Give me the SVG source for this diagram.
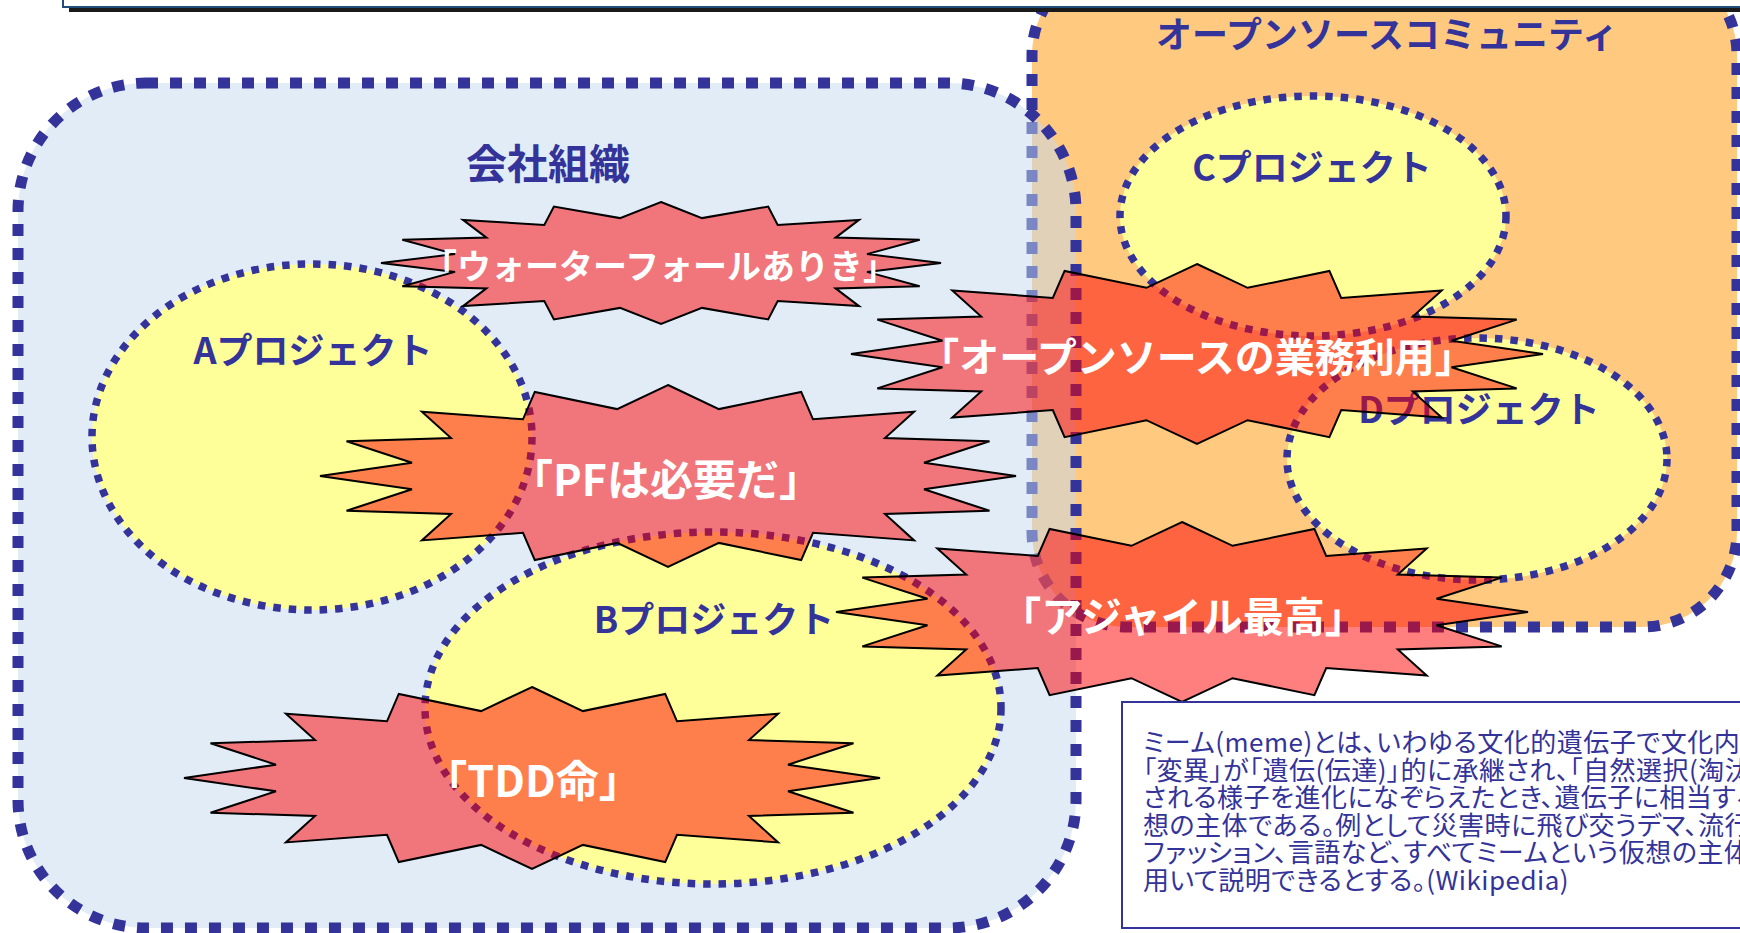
<svg xmlns="http://www.w3.org/2000/svg" width="1740" height="933" viewBox="0 0 1740 933">
<style>
.jp{font-family:"Noto Sans CJK JP","Noto Sans",sans-serif}
.lbl{font-weight:bold;fill:#333399;text-anchor:middle;dominant-baseline:central}
.proj{fill:#FFFF99;stroke:#333399;stroke-width:7.5;stroke-dasharray:7.5 8}
.box{stroke:#333399;stroke-width:11;stroke-dasharray:12 12}
.star{fill:#FF0000;fill-opacity:0.5;stroke:#000;stroke-width:2;stroke-linejoin:miter}
.st{font-weight:bold;fill:#FFFFFF;text-anchor:middle;dominant-baseline:central}
.note{font-size:26px;fill:#333399;font-feature-settings:"palt";letter-spacing:0.5px}
</style>
<rect width="1740" height="933" fill="#FFFFFF"/>
<g id="community">
<rect class="box" x="1032" y="-40" width="705" height="667" rx="95" ry="95" fill="#FFC980"/>
<text class="jp lbl" x="1387" y="32" font-size="36">オープンソースコミュニティ</text>
</g>
<g id="banner">
<rect x="69" y="-5" width="1700" height="17" fill="#1A1A1A"/>
<rect x="63" y="-10" width="1700" height="17" fill="#FFFFFF" stroke="#1F4E79" stroke-width="2"/>
</g>
<g id="company">
<rect class="box" x="18" y="83" width="1058" height="845" rx="128" ry="128" fill="#C4D9EF" fill-opacity="0.5"/>
<text class="jp lbl" x="548" y="161" font-size="41">会社組織</text>
</g>
<g id="projA">
<ellipse class="proj" cx="312" cy="437" rx="220" ry="173"/>
<text class="jp lbl" x="313" y="348" font-size="36">Aプロジェクト</text>
</g>
<g id="projB">
<ellipse class="proj" cx="713" cy="708" rx="288" ry="176"/>
<text class="jp lbl" x="714" y="617" font-size="36">Bプロジェクト</text>
</g>
<g id="projC">
<ellipse class="proj" cx="1313" cy="216" rx="193" ry="120"/>
<text class="jp lbl" x="1312" y="165" font-size="36">Cプロジェクト</text>
</g>
<g id="projD">
<ellipse class="proj" cx="1477" cy="459" rx="190" ry="121"/>
<text class="jp lbl" x="1479" y="407" font-size="36">Dプロジェクト</text>
</g>
<g id="connectors"></g>
<g id="memeWaterfall">
<polygon class="star" points="661,202 702,218.1 768.2,206.6 777.7,225 859,219.9 835.6,237.6 919.7,239.7 867,254.1 941,263 867,271.9 919.7,286.3 835.6,288.4 859,306.1 777.7,301 768.2,319.4 702,307.9 661,324 620,307.9 553.9,319.4 544.3,301 463,306.1 486.4,288.4 402.3,286.3 455,271.9 381,263 455,254.1 402.3,239.7 486.4,237.6 463,219.9 544.3,225 553.9,206.6 620,218.1"/>
<text class="jp st" x="660" y="264" font-size="34">「ウォーターフォールありき」</text>
</g>
<g id="memePF">
<polygon class="star" points="668,385 718.9,409.1 801.2,391.9 813,419.3 914.1,411.7 885,438.1 989.5,441.2 924,462.7 1016,476 924,489.3 989.5,510.8 885,513.9 914.1,540.4 813,532.8 801.2,560.1 718.9,542.9 668,567 617.1,542.9 534.8,560.1 523,532.8 421.9,540.4 451,513.9 346.5,510.8 412,489.3 320,476 412,462.7 346.5,441.2 451,438.1 421.9,411.7 523,419.3 534.8,391.9 617.1,409.1"/>
<text class="jp st" x="666" y="477" font-size="43">「PFは必要だ」</text>
</g>
<g id="memeOSS">
<polygon class="star" points="1197,264 1247.6,287.8 1329.4,270.9 1341.2,297.9 1441.7,290.4 1412.8,316.5 1516.7,319.6 1451.5,340.8 1543,354 1451.5,367.2 1516.7,388.4 1412.8,391.5 1441.7,417.6 1341.2,410.1 1329.4,437.2 1247.6,420.2 1197,444 1146.4,420.2 1064.6,437.2 1052.8,410.1 952.3,417.6 981.2,391.5 877.3,388.4 942.5,367.2 851,354 942.5,340.8 877.3,319.6 981.2,316.5 952.3,290.4 1052.8,297.9 1064.6,270.9 1146.4,287.8"/>
<text class="jp st" x="1197" y="355" font-size="40">「オープンソースの業務利用」</text>
</g>
<g id="memeAgile">
<polygon class="star" points="1182,522 1232.6,545.8 1314.4,528.9 1326.2,555.9 1426.7,548.4 1397.8,574.5 1501.7,577.6 1436.5,598.8 1528,612 1436.5,625.2 1501.7,646.4 1397.8,649.5 1426.7,675.6 1326.2,668.1 1314.4,695.2 1232.6,678.2 1182,702 1131.4,678.2 1049.6,695.2 1037.8,668.1 937.3,675.6 966.2,649.5 862.3,646.4 927.5,625.2 836,612 927.5,598.8 862.3,577.6 966.2,574.5 937.3,548.4 1037.8,555.9 1049.6,528.9 1131.4,545.8"/>
<text class="jp st" x="1183" y="614" font-size="41">「アジャイル最高」</text>
</g>
<g id="memeTDD">
<polygon class="star" points="532,687 582.9,711.1 665.2,693.9 677,721.3 778.1,713.7 749,740.1 853.5,743.2 788,764.7 880,778 788,791.3 853.5,812.8 749,815.9 778.1,842.4 677,834.8 665.2,862.1 582.9,844.9 532,869 481.1,844.9 398.8,862.1 387,834.8 285.9,842.4 315,815.9 210.5,812.8 276,791.3 184,778 276,764.7 210.5,743.2 315,740.1 285.9,713.7 387,721.3 398.8,693.9 481.1,711.1"/>
<text class="jp st" x="533" y="778" font-size="43">「TDD命」</text>
</g>
<g id="note">
<rect x="1122" y="702" width="700" height="226" fill="#FFFFFF" stroke="#333399" stroke-width="2"/>
<text class="jp note" x="1143" y="752">ミーム(meme)とは、いわゆる文化的遺伝子で文化内の</text>
<text class="jp note" x="1143" y="780">「変異」が「遺伝(伝達)」的に承継され、「自然選択(淘汰</text>
<text class="jp note" x="1143" y="807">される様子を進化になぞらえたとき、遺伝子に相当する</text>
<text class="jp note" x="1143" y="835">想の主体である。例として災害時に飛び交うデマ、流行</text>
<text class="jp note" x="1143" y="862">ファッション、言語など、すべてミームという仮想の主体</text>
<text class="jp note" x="1143" y="890">用いて説明できるとする。(Wikipedia)</text>
</g>
</svg>
